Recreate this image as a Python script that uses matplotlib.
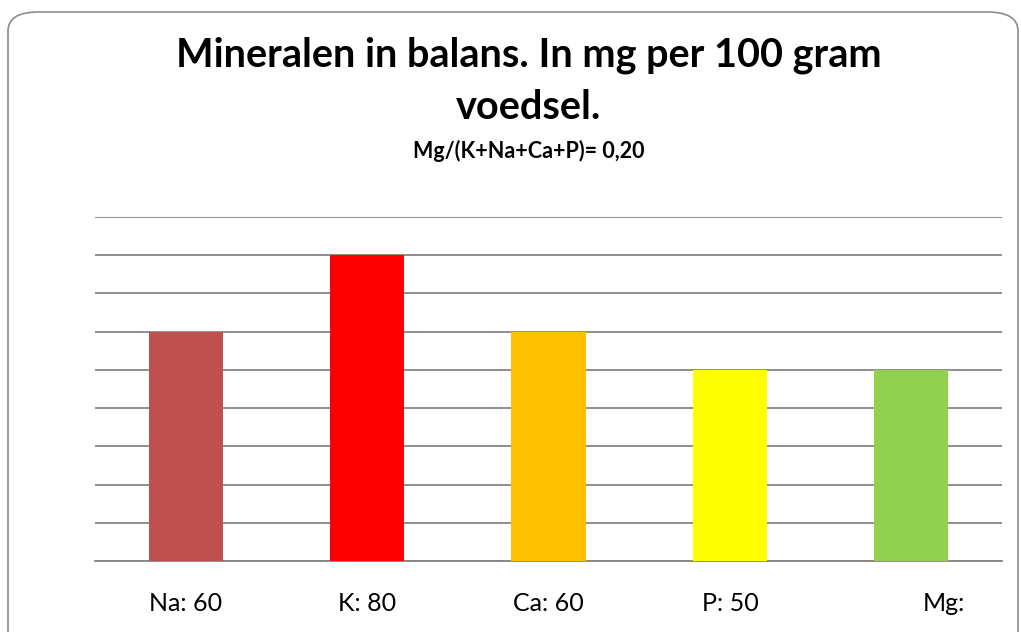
import matplotlib.pyplot as plt
from matplotlib.patches import FancyBboxPatch
import matplotlib.transforms as mtransforms

# chart data
minerals = ['Na', 'K', 'Ca', 'P', 'Mg']
amounts = [60, 80, 60, 50, 50]
tick_labels = ['Na: 60', 'K: 80', 'Ca: 60', 'P: 50', 'Mg:']
bar_colors = ['#C0504D', '#FF0000', '#FFC000', '#FFFF00', '#92D050']

title = 'Mineralen in balans. In mg per 100 gram\nvoedsel.'
subtitle = 'Mg/(K+Na+Ca+P)= 0,20'

plt.rcParams['font.family'] = ['Lato', 'DejaVu Sans']

fig = plt.figure(figsize=(10.21, 6.32), dpi=100)
W, H = 1021, 632

# rounded frame round the chart
frame = FancyBboxPatch((8 / W, -20 / H), 1010 / W, (H - 12 + 20) / H,
                       boxstyle='round,pad=0,rounding_size=0.03',
                       transform=fig.transFigure, facecolor='white',
                       edgecolor='#8c8c8c', linewidth=1.2, zorder=-5)
fig.patches.append(frame)

ax = fig.add_axes([95 / W, 1 - 561 / H, 907 / W, (561 - 217) / H])
ax.set_facecolor('none')
ax.set_zorder(2)

x = range(len(minerals))
ax.bar(x, amounts, width=0.41, color=bar_colors, zorder=3)

ax.set_xlim(-0.5, len(minerals) - 0.5)
ax.set_ylim(0, 90)
ax.set_yticks(range(0, 91, 10))
ax.yaxis.grid(True, color='#868686', linewidth=1.3, zorder=0)
ax.set_axisbelow(True)
ax.tick_params(axis='y', length=0, labelleft=False)
ax.tick_params(axis='x', length=0, pad=22, labelsize=18)
ax.set_xticks(list(x))
ax.set_xticklabels(tick_labels)

# the Mg label sits a bit right of its bar
lab = ax.get_xticklabels()[-1]
lab.set_transform(lab.get_transform() + mtransforms.ScaledTranslation(0.33, 0, fig.dpi_scale_trans))

for s in ['top', 'right', 'left']:
    ax.spines[s].set_visible(False)
ax.spines['bottom'].set_color('#868686')
ax.spines['bottom'].set_linewidth(1.3)

fig.text(529 / W, 1 - 81 / H, title, ha='center', va='center',
         fontsize=28.5, fontweight='bold', linespacing=1.5)
fig.text(529 / W, 1 - 151 / H, subtitle, ha='center', va='center',
         fontsize=15.5, fontweight='bold')

fig.savefig('out.png', dpi=100)
